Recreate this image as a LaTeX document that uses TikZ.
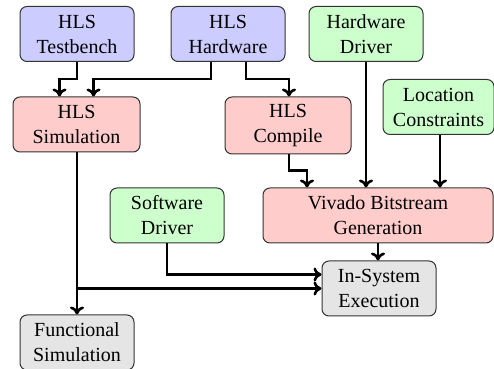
\documentclass[tikz,border=0pt]{standalone}
\usepackage{fontspec}
\setmainfont{Liberation Serif}
\usetikzlibrary{calc,arrows.meta}
\begin{document}
\begin{tikzpicture}[x=0.5pt,y=-0.5pt,
  box/.style={draw=black!80, line width=0.5pt, rounded corners=3.5pt, align=center,
    font=\fontsize{10}{12.5}\selectfont, minimum width=57pt, minimum height=27.5pt, inner sep=1pt},
  bl/.style={box, fill=blue!20},
  rd/.style={box, fill=red!20},
  gr/.style={box, fill=green!20},
  gy/.style={box, fill=gray!20},
  arr/.style={-{To[length=4pt,width=7pt]}, line width=1.3pt},
  ln/.style={line width=1.3pt}]
\useasboundingbox (0,0) rectangle (494,369);
\node[bl] (tb) at (77,34) {HLS\\Testbench};
\node[bl] (hw) at (228,34) {HLS\\Hardware};
\node[gr] (hd) at (366,34) {Hardware\\Driver};
\node[gr, minimum width=55.5pt] (lc) at (438.5,107) {Location\\Constraints};
\node[rd, minimum width=63.5pt] (sim) at (76.5,124.5) {HLS\\Simulation};
\node[rd, minimum width=63pt, minimum height=28.5pt] (hc) at (288,125.5) {HLS\\Compile};
\node[rd, minimum width=115pt] (viv) at (378,215.5) {Vivado Bitstream\\Generation};
\node[gr] (sd) at (167,215.5) {Software\\Driver};
\node[gy] (ise) at (379,288.5) {In-System\\Execution};
\node[gy] (fs) at (77,342.5) {Functional\\Simulation};
\draw[arr] (tb.south) -- ++(0,17) -| ($(sim.north)+(-17,0)$);
\draw[arr] ($(hw.south)+(-17,0)$) -- ++(0,17) -| ($(sim.north)+(17,0)$);
\draw[arr] ($(hw.south)+(18,0)$) -- ++(0,17) -| ($(hc.north)+(1,0)$);
\draw[arr] ($(hc.south)+(1,0)$) -- ++(0,16) -| ($(viv.north)+(-71,0)$);
\draw[arr] (hd.south) -- (hd.south |- viv.north);
\draw[arr] ($(lc.south)+(1.5,0)$) -- ($(lc.south |- viv.north)+(1.5,0)$);
\draw[arr] (viv.south) -- (viv.south |- ise.north);
\draw[arr] (sd.south) |- ($(ise.west)+(0,-14)$);
\draw[arr] (sim.south -| fs.north) -- (fs.north);
\coordinate (j) at (fs.north |- ise.west);
\draw[arr] (j) -- (ise.west);
\end{tikzpicture}
\end{document}
